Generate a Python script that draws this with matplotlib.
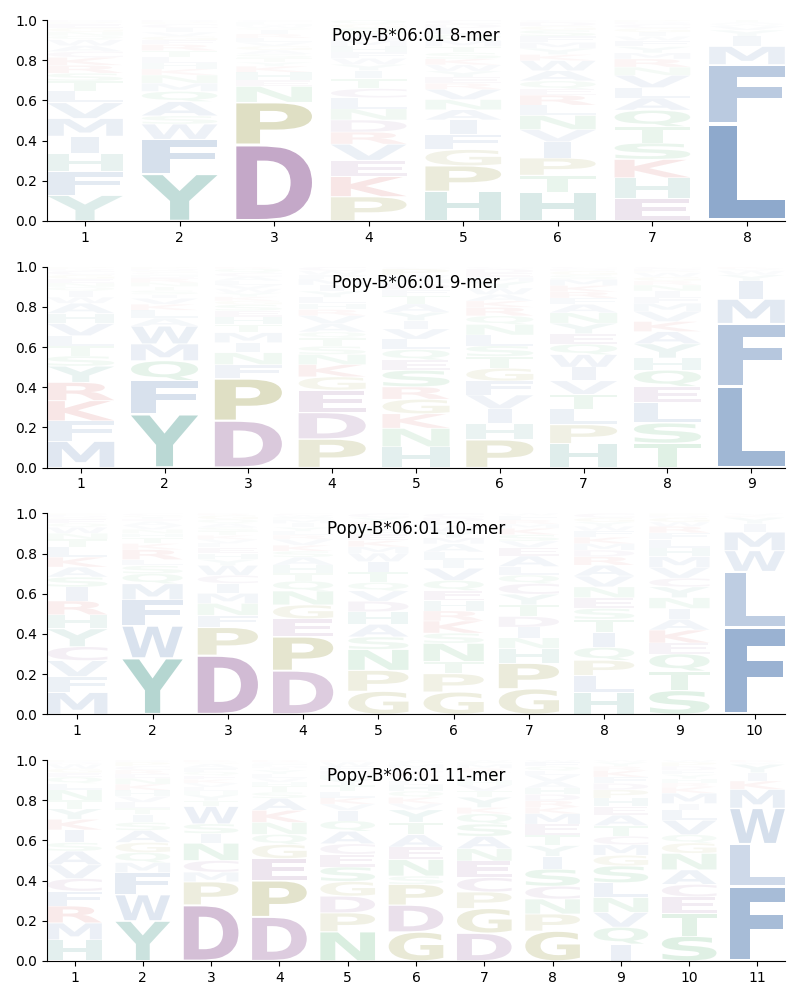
import matplotlib
matplotlib.use("Agg")
import matplotlib.pyplot as plt
from matplotlib.textpath import TextPath
from matplotlib.patches import PathPatch
from matplotlib.font_manager import FontProperties
from matplotlib.transforms import Affine2D

allele = "Popy-B*06:01"

# letter frequencies per position, listed bottom -> top
mer8 = [
    {"Y": .13, "F": .12, "H": .09, "I": .09, "M": .09, "V": .08, "L": .06, "T": .05, "S": .04, "R": .04,
     "K": .04, "C": .03, "A": .03, "W": .03, "Q": .02, "N": .02, "G": .02, "E": .02, "P": .01, "D": .01},
    {"Y": .23, "F": .17, "W": .075, "S": .04, "A": .07, "Q": .05, "M": .04, "N": .04, "K": .03, "H": .03,
     "L": .03, "T": .03, "R": .03, "E": .02, "G": .02, "V": .02, "I": .02, "C": .02, "P": .01, "D": .01},
    {"D": .38, "P": .21, "N": .08, "E": .03, "H": .04, "K": .03, "Y": .02, "T": .02, "S": .02, "A": .02,
     "G": .02, "V": .02, "L": .02, "R": .02, "I": .02, "Q": .01, "W": .01, "M": .01, "F": .01, "C": .01},
    {"P": .12, "K": .10, "E": .08, "V": .08, "R": .06, "D": .06, "N": .055, "L": .055, "C": .045, "T": .05,
     "I": .04, "Y": .03, "W": .03, "F": .03, "H": .03, "M": .03, "A": .03, "S": .03, "G": .02, "Q": .02},
    {"H": .145, "P": .125, "G": .08, "F": .075, "I": .07, "A": .05, "N": .05, "V": .05, "R": .03, "E": .03,
     "Y": .03, "W": .03, "K": .03, "S": .03, "T": .03, "M": .03, "Q": .03, "L": .03, "D": .02, "C": .02},
    {"H": .14, "T": .085, "P": .085, "I": .08, "V": .06, "N": .07, "L": .05, "R": .05, "E": .03, "Q": .04,
     "A": .05, "W": .05, "K": .03, "Y": .03, "M": .03, "F": .03, "S": .03, "G": .02, "D": .02, "C": .01},
    {"E": .11, "H": .10, "K": .09, "S": .08, "T": .08, "Q": .08, "A": .06, "L": .05, "V": .06, "N": .04,
     "R": .04, "M": .03, "Y": .03, "F": .03, "W": .02, "I": .02, "G": .02, "C": .02, "D": .01, "P": .01},
    {"L": .48, "F": .29, "M": .09, "I": .05, "Y": .03, "V": .02, "W": .01, "A": .01, "T": .01},
]

mer9 = [
    {"M": .13, "F": .10, "K": .10, "R": .09, "Y": .08, "S": .05, "T": .05, "L": .05, "V": .06, "H": .05,
     "A": .05, "W": .03, "I": .03, "Q": .02, "N": .02, "E": .02, "G": .02, "C": .02, "D": .01, "P": .01},
    {"Y": .27, "F": .17, "Q": .10, "M": .085, "W": .09, "A": .04, "L": .04, "K": .03, "V": .03, "I": .02,
     "S": .02, "T": .02, "N": .02, "R": .02, "E": .01, "H": .01, "C": .01, "G": .01, "D": .01, "P": .01},
    {"D": .235, "P": .21, "F": .07, "N": .06, "I": .05, "M": .05, "T": .04, "H": .04, "E": .03, "S": .03,
     "G": .02, "K": .02, "Y": .02, "W": .02, "V": .02, "L": .02, "A": .02, "C": .02, "Q": .02, "R": .01},
    {"P": .14, "D": .13, "E": .11, "G": .065, "K": .06, "N": .05, "S": .04, "T": .04, "Q": .03, "A": .04,
     "V": .04, "R": .03, "H": .03, "L": .03, "Y": .03, "I": .03, "M": .03, "F": .02, "W": .02, "C": .02},
    {"H": .10, "N": .09, "K": .07, "G": .07, "R": .06, "S": .08, "E": .05, "Q": .05, "L": .05, "V": .05,
     "I": .04, "Y": .04, "A": .04, "T": .04, "F": .03, "D": .03, "M": .02, "W": .02, "P": .03, "C": .01},
    {"P": .13, "H": .075, "I": .07, "V": .065, "F": .065, "G": .06, "T": .055, "S": .05, "L": .05, "N": .05,
     "Q": .04, "R": .04, "K": .03, "A": .03, "W": .03, "Y": .03, "M": .02, "E": .02, "D": .02, "C": .01},
    {"H": .115, "P": .09, "L": .075, "T": .07, "V": .065, "I": .065, "W": .06, "Q": .05, "E": .05, "Y": .05,
     "N": .05, "A": .04, "F": .03, "R": .03, "K": .03, "M": .03, "S": .02, "G": .02, "D": .01, "C": .01},
    {"T": .12, "S": .10, "L": .10, "E": .08, "Q": .08, "H": .06, "Y": .07, "A": .06, "K": .05, "V": .05,
     "M": .04, "F": .03, "I": .03, "N": .03, "R": .02, "G": .02, "W": .02, "P": .01, "D": .01, "C": .01},
    {"L": .40, "F": .31, "M": .12, "I": .09, "Y": .03, "W": .02, "V": .01, "K": .01},
]

mer10 = [
    {"M": .11, "F": .08, "V": .08, "C": .07, "Y": .09, "H": .07, "R": .07, "I": .07, "S": .05, "A": .05,
     "K": .05, "L": .05, "T": .04, "N": .03, "W": .03, "Q": .02, "E": .02, "G": .01, "D": .01, "P": .01},
    {"Y": .28, "W": .16, "F": .13, "M": .08, "Q": .05, "S": .04, "L": .03, "R": .05, "K": .03, "T": .03,
     "H": .02, "N": .02, "V": .02, "A": .02, "E": .01, "I": .01, "G": .01, "C": .01},
    {"D": .295, "P": .14, "F": .06, "N": .06, "M": .05, "I": .05, "C": .04, "W": .05, "Y": .03, "H": .03,
     "E": .03, "L": .02, "V": .02, "K": .02, "T": .02, "S": .02, "A": .02, "Q": .02, "G": .02, "R": .01},
    {"D": .22, "P": .17, "E": .09, "G": .07, "N": .07, "Q": .05, "T": .04, "H": .04, "A": .04, "S": .03,
     "K": .03, "V": .03, "R": .02, "L": .02, "Y": .02, "I": .02, "M": .02, "F": .01, "W": .01, "C": .01},
    {"G": .11, "P": .10, "N": .10, "S": .06, "A": .06, "H": .06, "D": .05, "V": .05, "Q": .04, "T": .05,
     "I": .05, "W": .04, "M": .03, "K": .03, "E": .03, "F": .02, "L": .02, "R": .02, "Y": .02, "C": .02},
    {"G": .11, "P": .09, "T": .06, "N": .09, "S": .05, "K": .06, "R": .05, "H": .05, "E": .05, "Q": .05,
     "V": .06, "I": .04, "L": .04, "A": .04, "M": .03, "Y": .03, "W": .03, "F": .02, "D": .02, "C": .02},
    {"G": .12, "P": .12, "H": .07, "N": .05, "I": .05, "D": .05, "T": .055, "Y": .05, "C": .05, "Q": .04,
     "L": .04, "A": .05, "E": .04, "V": .03, "S": .03, "K": .03, "M": .02, "R": .02, "F": .02, "W": .01},
    {"H": .10, "L": .08, "P": .07, "Q": .06, "I": .07, "T": .06, "S": .05, "E": .05, "N": .05, "V": .05,
     "A": .05, "R": .04, "D": .03, "M": .03, "K": .03, "F": .03, "W": .02, "Y": .02, "G": .02, "C": .02},
    {"S": .11, "T": .09, "Q": .08, "E": .05, "K": .06, "A": .05, "I": .05, "N": .05, "Y": .05, "C": .04,
     "V": .05, "M": .05, "H": .04, "L": .04, "F": .03, "R": .03, "W": .02, "G": .02, "D": .01, "P": .01},
    {"F": .42, "L": .27, "W": .10, "M": .09, "I": .04, "Y": .03, "K": .01, "V": .01},
]

mer11 = [
    {"H": .10, "M": .08, "R": .08, "F": .07, "C": .06, "V": .065, "A": .065, "S": .04, "I": .06, "K": .05,
     "Y": .05, "T": .04, "N": .05, "L": .03, "Q": .03, "E": .02, "G": .02, "W": .02, "D": .01, "P": .01},
    {"Y": .20, "W": .13, "F": .11, "M": .05, "Q": .05, "G": .05, "A": .06, "S": .04, "I": .04, "T": .03,
     "L": .03, "V": .03, "H": .03, "K": .03, "N": .03, "E": .02, "R": .02, "C": .02, "P": .02, "D": .01},
    {"D": .29, "P": .12, "M": .05, "C": .06, "N": .09, "I": .05, "S": .05, "W": .09, "T": .03, "Y": .03,
     "H": .02, "L": .02, "V": .02, "K": .02, "E": .02, "Q": .02, "F": .02, "A": .02, "G": .01, "R": .01},
    {"D": .22, "P": .18, "E": .11, "G": .07, "Q": .05, "N": .06, "K": .06, "A": .06, "S": .03, "T": .03,
     "H": .02, "V": .02, "L": .02, "Y": .02, "I": .01, "M": .01, "F": .01, "C": .01, "R": .01},
    {"N": .14, "P": .09, "D": .08, "G": .07, "S": .07, "E": .06, "C": .05, "A": .06, "Q": .05, "I": .05,
     "V": .03, "K": .03, "L": .03, "T": .03, "Y": .03, "H": .02, "M": .02, "F": .02, "W": .02, "R": .01},
    {"G": .14, "D": .13, "P": .10, "S": .04, "N": .08, "E": .06, "A": .06, "T": .06, "Y": .06, "V": .03,
     "K": .03, "Q": .03, "H": .03, "L": .02, "I": .02, "R": .02, "C": .02, "M": .02, "F": .01, "W": .01},
    {"D": .135, "G": .12, "P": .08, "C": .07, "E": .08, "N": .06, "A": .06, "S": .06, "Q": .05, "K": .03,
     "Y": .05, "T": .03, "V": .03, "H": .02, "L": .02, "I": .02, "R": .02, "M": .02, "F": .01, "W": .01},
    {"G": .14, "P": .08, "N": .07, "C": .06, "S": .08, "I": .06, "Y": .05, "T": .05, "E": .05, "M": .05,
     "K": .03, "R": .03, "D": .03, "H": .03, "A": .03, "V": .03, "L": .02, "Q": .02, "F": .02, "W": .01},
    {"I": .08, "Q": .08, "V": .07, "N": .07, "L": .07, "S": .08, "G": .05, "M": .05, "C": .04, "T": .05,
     "A": .05, "E": .04, "H": .04, "P": .04, "D": .03, "F": .03, "K": .03, "R": .02, "Y": .02, "W": .01},
    {"S": .12, "T": .11, "E": .08, "C": .06, "A": .07, "N": .08, "G": .05, "Q": .04, "V": .07, "L": .05,
     "I": .03, "M": .05, "K": .03, "R": .02, "H": .02, "Y": .02, "F": .02, "D": .02, "P": .02, "W": .01},
    {"F": .36, "L": .20, "W": .17, "M": .09, "K": .04, "I": .04, "Y": .04, "V": .01, "R": .01},
]

panels = [("8-mer", mer8), ("9-mer", mer9), ("10-mer", mer10), ("11-mer", mer11)]

# colour groups
colors = {}
for aa in "AVLIMFW":
    colors[aa] = "#3d6ba8"
for aa in "DEC":
    colors[aa] = "#7e4086"
for aa in "PG":
    colors[aa] = "#808015"
for aa in "HY":
    colors[aa] = "#268779"
for aa in "KR":
    colors[aa] = "#c83232"
for aa in "STNQ":
    colors[aa] = "#2ea050"

font = FontProperties(family="DejaVu Sans", weight="bold")


def draw_letter(ax, letter, x, y, w, h, color, alpha):
    path = TextPath((0, 0), letter, size=1, prop=font)
    ext = path.get_extents()
    lw = w * 0.36 if letter == "I" else w
    tr = (Affine2D().translate(-ext.x0, -ext.y0)
          .scale(lw / ext.width, h / ext.height)
          .translate(x - lw / 2, y))
    patch = PathPatch(tr.transform_path(path), facecolor=color, edgecolor="none",
                      lw=0, alpha=alpha)
    ax.add_patch(patch)


fig, axes = plt.subplots(4, 1, figsize=(8, 10), dpi=100)
plt.subplots_adjust(left=0.059, right=0.981, bottom=0.039, top=0.98, hspace=0.228)

for ax, (name, cols) in zip(axes, panels):
    n = len(cols)
    for i, col in enumerate(cols):
        pos = i + 1
        total = sum(col.values())
        y = 0
        for aa, v in col.items():
            p = v / total
            pad = 0.025 * p
            draw_letter(ax, aa, pos, y + pad, 0.8, p - 2 * pad, colors[aa], min(1.0, 1.2 * p))
            y += p
    ax.set_xlim(0.6, n + 0.4)
    ax.set_ylim(0, 1)
    ax.set_xticks(range(1, n + 1))
    ax.set_yticks([0, 0.2, 0.4, 0.6, 0.8, 1.0])
    ax.spines["top"].set_visible(False)
    ax.spines["right"].set_visible(False)
    ax.text(0.5, 0.92, f"{allele} {name}", transform=ax.transAxes,
            ha="center", va="center", fontsize=12, zorder=10)

plt.savefig("out.png", dpi=100)
